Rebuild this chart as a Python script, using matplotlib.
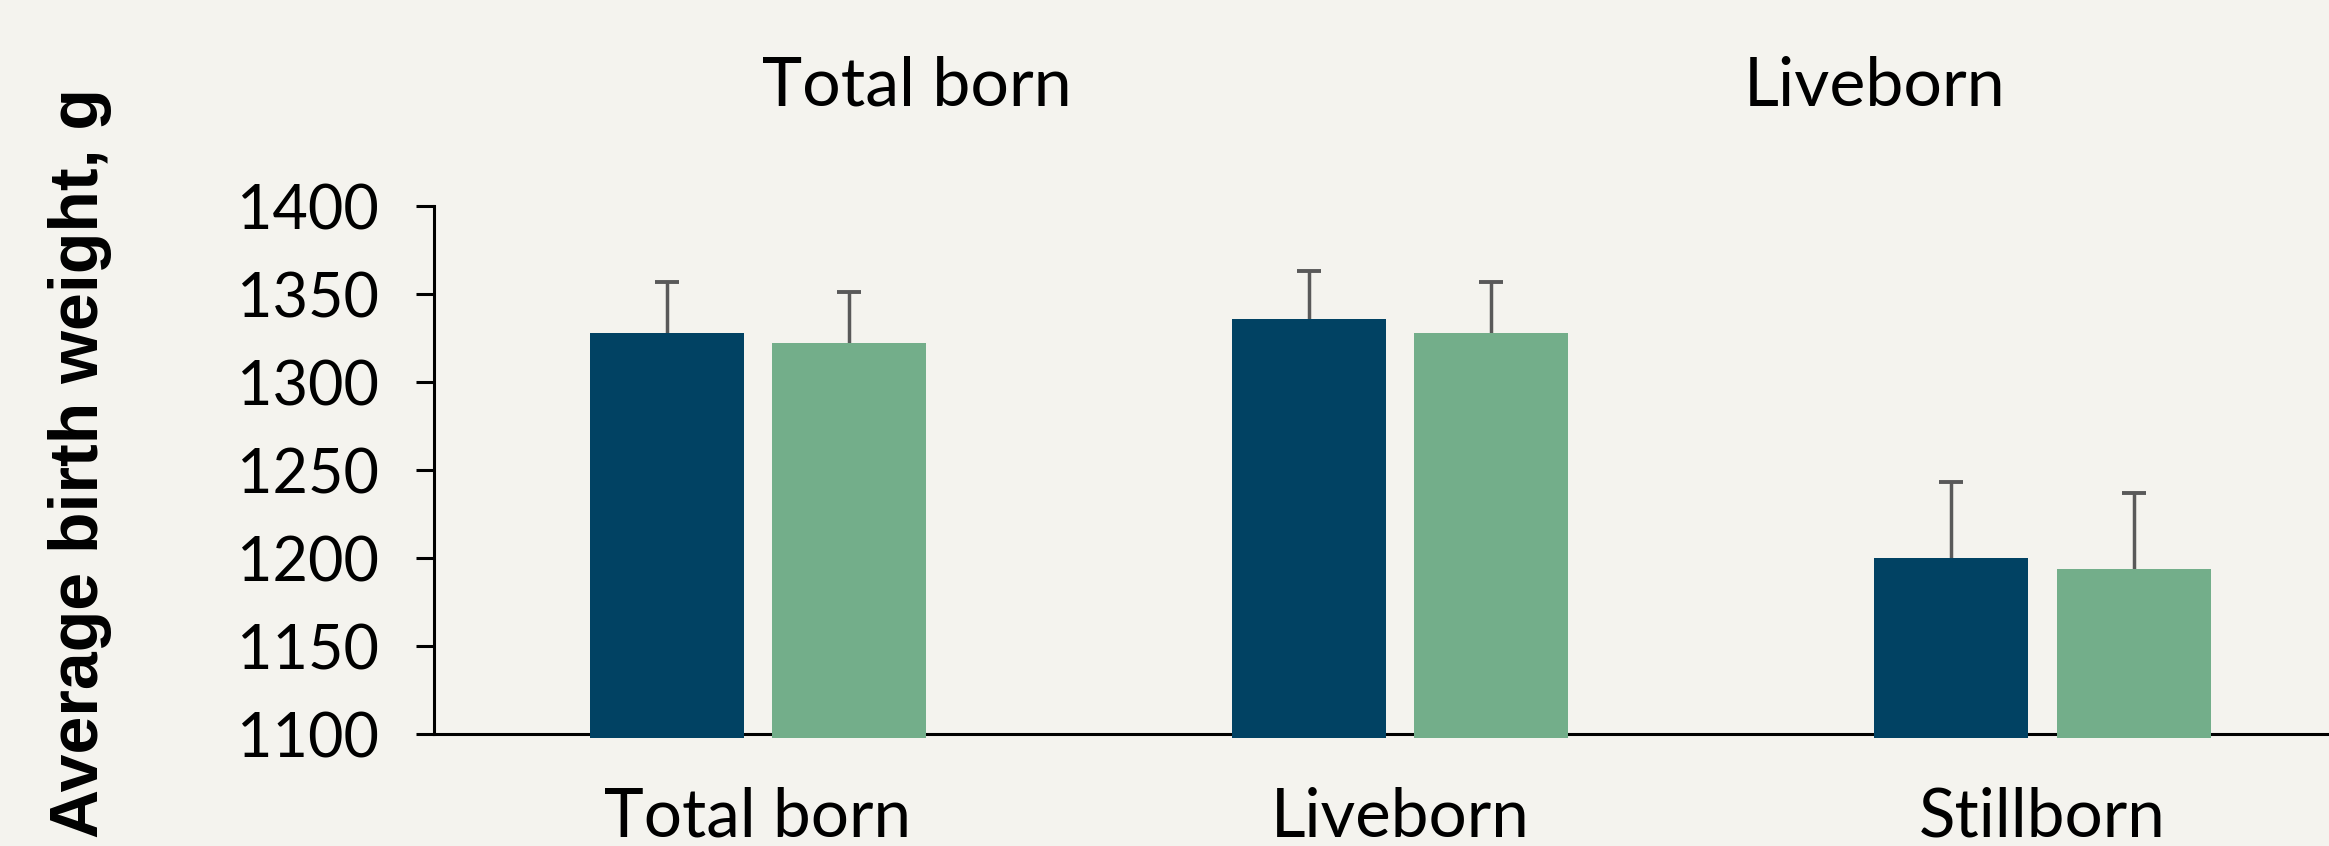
import matplotlib
matplotlib.use("Agg")
import matplotlib.pyplot as plt
import numpy as np

# Average birth weight (g) by piglet category, two treatment groups
categories = ["Total born", "Liveborn", "Stillborn"]
group_a = [1328, 1336, 1200]
group_a_err = [29, 27, 43]
group_b = [1322, 1328, 1194]
group_b_err = [29, 29, 43]
header_labels = ["Total born", "Liveborn"]
y_ticks = [1100, 1150, 1200, 1250, 1300, 1350, 1400]

BG = "#F4F3EE"
DARK = "#014263"
GREEN = "#73AE8A"
ERR = "#595959"
TEXT_FONT = ["Lato", "DejaVu Sans"]

W, H, DPI = 2329, 846, 100
fig = plt.figure(figsize=(W / DPI, H / DPI), dpi=DPI, facecolor=BG)

left_px, right_px = 433.5, 2329
bottom_px, top_px = 846 - 734, 846 - 206
ax = fig.add_axes([left_px / W, bottom_px / H,
                   (right_px - left_px) / W, (top_px - bottom_px) / H])
ax.set_facecolor(BG)

x = np.arange(len(categories))
width = 0.24
offset = 0.142
ymin, ymax = y_ticks[0], y_ticks[-1]
base = ymin - 2

a_vals = np.array(group_a)
b_vals = np.array(group_b)
ax.bar(x - offset, a_vals - base, width, bottom=base, color=DARK,
       zorder=3, clip_on=False)
ax.bar(x + offset, b_vals - base, width, bottom=base, color=GREEN,
       zorder=3, clip_on=False)
ax.errorbar(x - offset, a_vals, yerr=group_a_err, fmt="none", ecolor=ERR,
            elinewidth=2.5, capsize=8.4, capthick=2.8, zorder=2.9)
ax.errorbar(x + offset, b_vals, yerr=group_b_err, fmt="none", ecolor=ERR,
            elinewidth=2.5, capsize=8.4, capthick=2.8, zorder=2.9)

ax.set_xlim(-0.505, 2.446)
ax.set_ylim(ymin, ymax)
ax.set_yticks(y_ticks)
ax.set_yticklabels([str(v) for v in y_ticks], family=TEXT_FONT, fontsize=44)
ax.set_xticks(x)
ax.set_xticklabels(categories, family=TEXT_FONT, fontsize=48.5)
ax.tick_params(axis="y", length=13, width=2.2, pad=26, color="black")
ax.tick_params(axis="x", length=0, pad=38)

for side in ("top", "right"):
    ax.spines[side].set_visible(False)
for side in ("left", "bottom"):
    ax.spines[side].set_linewidth(2.2)
    ax.spines[side].set_color("black")

for label, xc in zip(header_labels, [917, 1875]):
    fig.text(xc / W, 1 - 106 / H, label, ha="center", va="baseline",
             family=TEXT_FONT, fontsize=49)

fig.text(80 / W, 1 - 463.5 / H, "Average birth weight, g", rotation=90,
         ha="center", va="center", family=["Liberation Sans", "DejaVu Sans"],
         fontweight="bold", fontsize=49)

fig.savefig("out.png", dpi=DPI, facecolor=BG)
